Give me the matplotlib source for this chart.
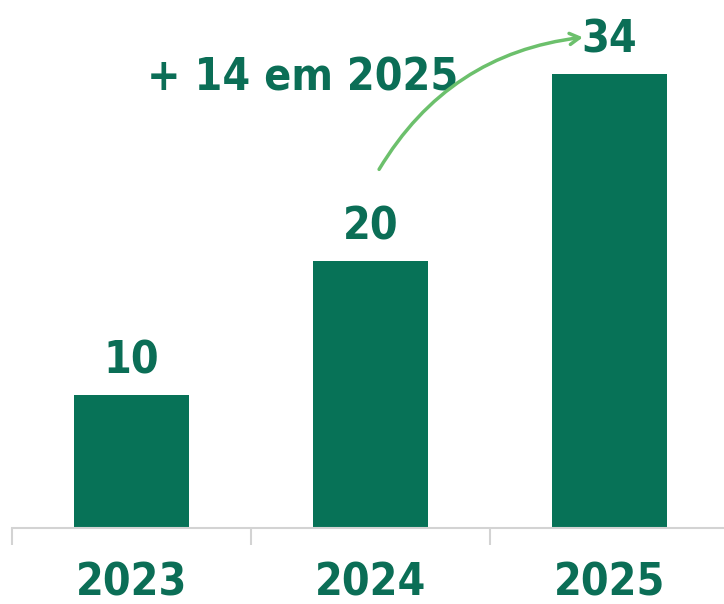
import matplotlib.pyplot as plt
from matplotlib.ticker import FixedLocator

years = ["2023", "2024", "2025"]
values = [10, 20, 34]
growth_text = "+ 14 em 2025"

bar_color = "#077257"
text_color = "#0B6E56"
arrow_color = "#6CC06C"
axis_color = "#D3D3D3"

fig = plt.figure(figsize=(7.24, 6.04), dpi=100)
# axes runs slightly past the right edge, like the original
ax = fig.add_axes([12 / 724, 76 / 604, 717 / 724, 507 / 604])

x = range(len(years))
bars = ax.bar(x, values, width=0.48, color=bar_color)

font = dict(family="DejaVu Sans", weight="bold", stretch="condensed",
            size=32, color=text_color)

for xi, v in zip(x, values):
    ax.annotate(str(v), (xi, v), xytext=(0, 9), textcoords="offset points",
                ha="center", va="bottom", **font)

ax.set_xlim(-0.5, 2.5)
ax.set_ylim(0, 38)

ax.set_xticks(list(x))
ax.set_xticklabels(years, **font)
ax.tick_params(axis="x", which="major", length=0, pad=24)
ax.xaxis.set_minor_locator(FixedLocator([-0.5, 0.5, 1.5, 2.5]))
ax.tick_params(axis="x", which="minor", length=12, width=1.5,
               color=axis_color, direction="out")
ax.set_yticks([])

for side in ["left", "right", "top"]:
    ax.spines[side].set_visible(False)
ax.spines["bottom"].set_color(axis_color)
ax.spines["bottom"].set_linewidth(1.5)

ax.text(0.714, 32.8, growth_text, ha="center", va="baseline", **font)

ax.annotate("", xy=(1.9, 36.8), xytext=(1.03, 26.7),
            arrowprops=dict(arrowstyle="->,head_length=0.7,head_width=0.4",
                            color=arrow_color, lw=2.5,
                            connectionstyle="arc3,rad=-0.25"))

fig.savefig("out.png", dpi=100)
